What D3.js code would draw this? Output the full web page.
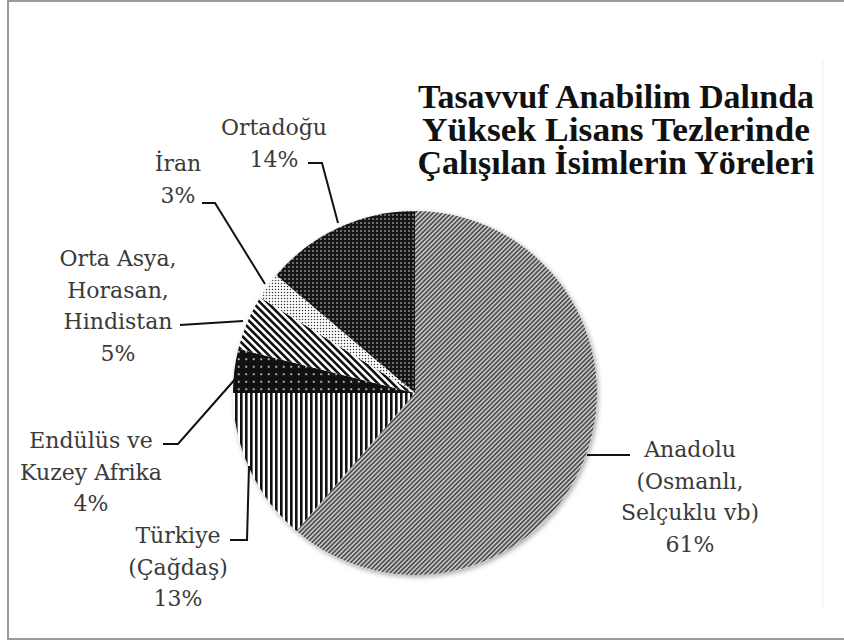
<!DOCTYPE html>
<html><head><meta charset="utf-8">
<script src="https://cdn.jsdelivr.net/npm/d3@7/dist/d3.min.js"></script>
<style>body{margin:0;background:#fff}svg{display:block}</style>
</head><body>
<script>
// Data (clockwise from 12 o'clock)
const categories = ["Anadolu", "Türkiye", "Endülüs", "OrtaAsya", "Iran", "Ortadogu"];
const values = [61.3, 13.7, 3.9, 4.9, 2.4, 13.8];
const percentLabels = ["61%", "13%", "4%", "5%", "3%", "14%"];
const nameLines = [
  ["Anadolu", "(Osmanlı,", "Selçuklu vb)"],
  ["Türkiye", "(Çağdaş)"],
  ["Endülüs ve", "Kuzey Afrika"],
  ["Orta Asya,", "Horasan,", "Hindistan"],
  ["İran"],
  ["Ortadoğu"]
];
const titleLines = ["Tasavvuf Anabilim Dalında", "Yüksek Lisans Tezlerinde", "Çalışılan İsimlerin Yöreleri"];

const W = 844, H = 643;
const cx = 415, cy = 393, R = 182;

const svg = d3.select("body").append("svg").attr("width", W).attr("height", H);
const defs = svg.append("defs");

// Patterns
function stripes(id, period, lineW, angle, bg, fg) {
  const p = defs.append("pattern").attr("id", id).attr("patternUnits", "userSpaceOnUse")
    .attr("width", period).attr("height", period).attr("patternTransform", `rotate(${angle})`);
  p.append("rect").attr("width", period).attr("height", period).attr("fill", bg);
  p.append("rect").attr("width", lineW).attr("height", period).attr("fill", fg);
}
function dots(id, sx, sy, r, bg, fg) {
  const p = defs.append("pattern").attr("id", id).attr("patternUnits", "userSpaceOnUse")
    .attr("width", sx).attr("height", sy);
  p.append("rect").attr("width", sx).attr("height", sy).attr("fill", bg);
  p.append("circle").attr("cx", sx / 2).attr("cy", sy / 2).attr("r", r).attr("fill", fg);
}
stripes("pAnadolu", 3.2, 1.6, 45, "#c4c4c4", "#4e4e4e");
stripes("pTurkiye", 5, 2.6, 0, "#ffffff", "#111");
dots("pEndulus", 7.5, 7.5, 0.9, "#111", "#fff");
stripes("pOrtaAsya", 5.2, 2.6, -45, "#ffffff", "#111");
dots("pIran", 3, 3, 0.75, "#ffffff", "#333");
dots("pOrtadogu", 4, 4, 0.8, "#151515", "#ddd");
const fills = ["url(#pAnadolu)", "url(#pTurkiye)", "url(#pEndulus)", "url(#pOrtaAsya)", "url(#pIran)", "url(#pOrtadogu)"];

const shadow = defs.append("filter").attr("id", "sh").attr("x", "-10%").attr("y", "-10%").attr("width", "130%").attr("height", "130%");
shadow.append("feDropShadow").attr("dx", 1.5).attr("dy", 2).attr("stdDeviation", 2.5).attr("flood-color", "#000").attr("flood-opacity", 0.35);

// Frame
svg.append("rect").attr("x", 8).attr("y", 1).attr("width", 850).attr("height", 638)
  .attr("fill", "none").attr("stroke", "#9a9a9a").attr("stroke-width", 2);
svg.append("line").attr("x1", 823).attr("x2", 823).attr("y1", 60).attr("y2", 610)
  .attr("stroke", "#f0f0f0").attr("stroke-width", 1);

// Pie
const pie = d3.pie().sort(null).value(d => d)(values);
const arc = d3.arc().innerRadius(0).outerRadius(R);
const g = svg.append("g").attr("transform", `translate(${cx},${cy})`);
g.append("circle").attr("r", R).attr("fill", "#fff").attr("filter", "url(#sh)");
g.selectAll("path.slice").data(pie).join("path").attr("class", "slice")
  .attr("d", arc).attr("fill", (d, i) => fills[i]);

// Title
const titleWidths = [396, 388, 397];
const title = svg.append("text").attr("font-family", "'Liberation Serif', serif")
  .attr("font-weight", "bold").attr("font-size", 33).attr("fill", "#111").attr("text-anchor", "middle");
titleLines.forEach((t, i) => {
  title.append("tspan").attr("x", 616).attr("y", 108 + i * 33)
    .attr("textLength", titleWidths[i]).attr("lengthAdjust", "spacingAndGlyphs").text(t);
});

// Labels: center x, first-line baseline y, leader path points
const labelPos = [
  {x: 690, y: 457},
  {x: 178, y: 543},
  {x: 91, y: 448},
  {x: 118, y: 266},
  {x: 178, y: 171},
  {x: 274, y: 135}
];
const lineH = 31.5;
const leaderEnds = [
  {pts: [[587, 455], [630, 455]]},
  {pts: [[230, 540], [247, 540], [249, 466]]},
  {pts: [[163, 444], [178, 444], [237, 377]]},
  {pts: [[180, 325], [243, 321]]},
  {pts: [[202, 203], [215, 203], [265, 284]]},
  {pts: [[308, 163], [322, 163], [338, 223]]}
];
const lg = svg.append("g");
lg.selectAll("path.leader").data(leaderEnds).join("path").attr("class", "leader")
  .attr("d", d => d3.line()(d.pts)).attr("fill", "none").attr("stroke", "#111").attr("stroke-width", 2);

pie.forEach((d, i) => {
  const t = lg.append("text").attr("font-family", "'DejaVu Serif', serif").attr("font-size", 22)
    .attr("fill", "#3a3a3a").attr("text-anchor", "middle");
  const lines = nameLines[i].concat([percentLabels[i]]);
  lines.forEach((s, k) => {
    t.append("tspan").attr("x", labelPos[i].x).attr("y", labelPos[i].y + k * lineH).text(s);
  });
});
</script>
</body></html>
